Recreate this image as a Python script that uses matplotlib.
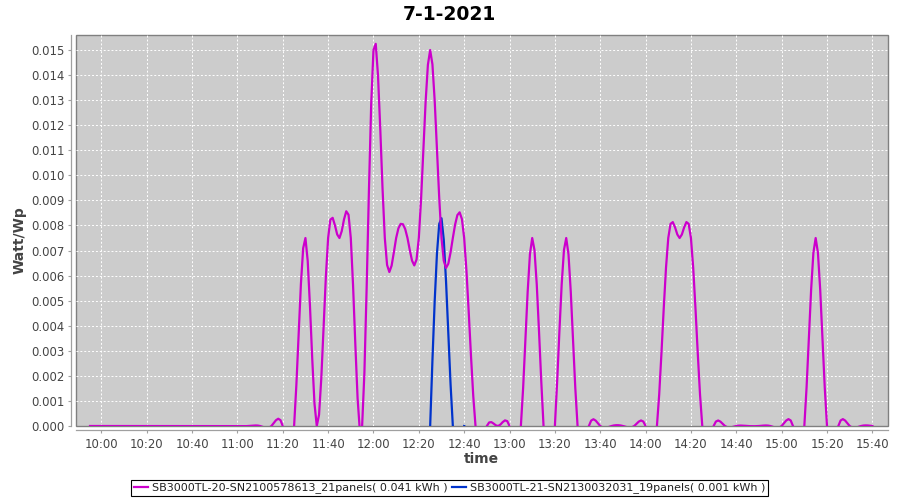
import numpy as np
import matplotlib
matplotlib.use("Agg")
import matplotlib.pyplot as plt
from matplotlib.lines import Line2D

# ---------------- data ----------------
title = "7-1-2021"
x_label = "time"
y_label = "Watt/Wp"
series_names = [
    "SB3000TL-20-SN2100578613_21panels( 0.041 kWh )",
    "SB3000TL-21-SN2130032031_19panels( 0.001 kWh )",
]

times_a = [
    "09:55", "10:00", "10:05", "10:10", "10:15", "10:20", "10:25", "10:30", "10:35", "10:40",
    "10:45", "10:50", "10:55", "11:00", "11:05", "11:10", "11:15", "11:20", "11:25", "11:30",
    "11:35", "11:40", "11:45", "11:50", "11:55", "12:00", "12:05", "12:10", "12:15", "12:20",
    "12:25", "12:30", "12:35", "12:40", "12:45", "12:50", "12:55", "13:00", "13:05", "13:10",
    "13:15", "13:20", "13:25", "13:30", "13:35", "13:40", "13:45", "13:50", "13:55", "14:00",
    "14:05", "14:10", "14:15", "14:20", "14:25", "14:30", "14:35", "14:40", "14:45", "14:50",
    "14:55", "15:00", "15:05", "15:10", "15:15", "15:20", "15:25", "15:30", "15:35", "15:40",
]
values_a = [
    0.0, 0.0, 0.0, 0.0, 0.0, 0.0, 0.0, 0.0, 0.0, 0.0,
    0.0, 0.0, 0.0, 0.0, 0.0, 0.0, 0.0, 0.0, 0.0, 0.0075,
    0.0, 0.0075, 0.0075, 0.0075, 0.0, 0.015, 0.0075, 0.0075, 0.0075, 0.0075,
    0.015, 0.0075, 0.0075, 0.0075, 0.0, 0.0, 0.0, 0.0, 0.0, 0.0075,
    0.0, 0.0, 0.0075, 0.0, 0.0, 0.0, 0.0, 0.0, 0.0, 0.0,
    0.0, 0.0075, 0.0075, 0.0075, 0.0, 0.0, 0.0, 0.0, 0.0, 0.0,
    0.0, 0.0, 0.0, 0.0, 0.0075, 0.0, 0.0, 0.0, 0.0, 0.0,
]
times_b = ["12:25", "12:30", "12:35", "12:40"]
values_b = [0.0, 0.00829, 0.0, 0.0]

x_tick_labels = ["10:00", "10:20", "10:40", "11:00", "11:20", "11:40", "12:00", "12:20", "12:40",
                 "13:00", "13:20", "13:40", "14:00", "14:20", "14:40", "15:00", "15:20", "15:40"]
y_ticks = [0.000, 0.001, 0.002, 0.003, 0.004, 0.005, 0.006, 0.007, 0.008,
           0.009, 0.010, 0.011, 0.012, 0.013, 0.014, 0.015]

colors = ["#CC00CC", "#0033CC"]


def to_min(s):
    h, m = s.split(":")
    return int(h) * 60 + int(m)


def spline_path(x, y, precision=5):
    """Natural cubic spline rendering (like a spline line renderer)."""
    x = np.asarray(x, float)
    y = np.asarray(y, float)
    n = len(x)
    h = np.diff(x)
    A = np.zeros((n, n))
    r = np.zeros(n)
    A[0, 0] = A[-1, -1] = 1.0
    for i in range(1, n - 1):
        A[i, i - 1] = h[i - 1] / 6
        A[i, i] = (h[i - 1] + h[i]) / 3
        A[i, i + 1] = h[i] / 6
        r[i] = (y[i + 1] - y[i]) / h[i] - (y[i] - y[i - 1]) / h[i - 1]
    M = np.linalg.solve(A, r)
    xs = [x[0]]
    ys = [y[0]]
    for i in range(n - 1):
        hi = h[i]
        for j in range(1, precision + 1):
            t1 = hi * j / precision
            t2 = hi - t1
            v = ((-M[i] / 6 * (t2 + hi) * t1 + y[i]) * t2 +
                 (-M[i + 1] / 6 * (t1 + hi) * t2 + y[i + 1]) * t1) / hi
            xs.append(x[i] + t1)
            ys.append(v)
    return np.array(xs), np.array(ys)


# ---------------- figure ----------------
plt.rcParams["font.family"] = ["DejaVu Sans"]
W, H = 900, 500
fig = plt.figure(figsize=(9, 5), dpi=100)
fig.patch.set_facecolor("white")

L, R, T, B = 75.5, 888, 35, 426
ax = fig.add_axes([L / W, 1 - B / H, (R - L) / W, (B - T) / H])
ax.set_facecolor("#CCCCCC")

xa = [to_min(t) for t in times_a]
xb = [to_min(t) for t in times_b]

xs, ys = spline_path(xa, values_a)
la, = ax.plot(xs, ys, color=colors[0], lw=1.6, zorder=4, solid_joinstyle="round")
xs, ys = spline_path(xb, values_b)
lb, = ax.plot(xs, ys, color=colors[1], lw=1.6, zorder=3, solid_joinstyle="round")

ax.set_xlim(588.6, 946.9)
ax.set_ylim(0, 0.0156)

xt = [to_min(t) for t in x_tick_labels]
ax.set_xticks(xt)
ax.set_xticklabels(x_tick_labels)
ax.set_yticks(y_ticks)
ax.set_yticklabels(["%.3f" % v for v in y_ticks])

ax.grid(True, color="white", lw=0.7, linestyle=(0, (2, 2)))
ax.set_axisbelow(True)

for s in ["top", "right"]:
    ax.spines[s].set_visible(False)
for s in ["left", "bottom"]:
    ax.spines[s].set_position(("outward", 3))
    ax.spines[s].set_color("#A0A0A0")
    ax.spines[s].set_linewidth(0.9)

# plot border
ax.patch.set_edgecolor("#808080")
ax.patch.set_linewidth(1.0)

ax.tick_params(axis="both", which="major", length=2.5, width=0.8, color="#A0A0A0",
               labelcolor="#444444", labelsize=8.4)
ax.tick_params(axis="y", pad=2.5)
ax.tick_params(axis="x", pad=3)

ax.set_xlabel(x_label, fontsize=10, fontweight="bold", color="#444444")
ax.set_ylabel(y_label, fontsize=10, fontweight="bold", color="#444444")
ax.xaxis.set_label_coords(0.5, -(459 - B) / (B - T))
ax.xaxis.label.set_va("center")
ax.yaxis.set_label_coords(-(L - 20) / (R - L), (B - 240.5) / (B - T))
ax.yaxis.label.set_va("center")

fig.text(449.5 / W, 1 - 14 / H, title, ha="center", va="center",
         fontsize=13.5, fontweight="bold", color="black")

handles = [Line2D([], [], color=colors[0], lw=1.6), Line2D([], [], color=colors[1], lw=1.6)]
leg = fig.legend(handles, series_names, loc="center", bbox_to_anchor=(449.5 / W, 1 - 488 / H),
                 ncol=2, frameon=True, fancybox=False, edgecolor="black", framealpha=1,
                 fontsize=8, handlelength=1.3, handletextpad=0.3, columnspacing=0.4,
                 borderpad=0.25, borderaxespad=0)
leg.get_frame().set_linewidth(0.8)
for t in leg.get_texts():
    t.set_color("#222222")

fig.savefig("out.png", dpi=100)
